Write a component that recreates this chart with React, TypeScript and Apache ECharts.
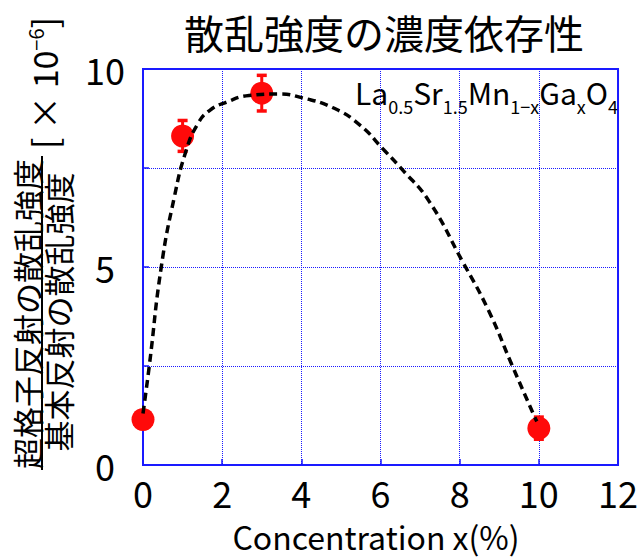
import React, { useEffect, useRef } from "react";
import * as echarts from "echarts";

const pointX = [0, 1, 3, 10];
const pointY = [1.15, 8.31, 9.39, 0.93];
const pointErr = [0, 0.39, 0.45, 0.28];

const curveX = [0, 0.16, 0.46, 0.79, 1.09, 1.38, 1.68, 2.1, 2.68, 3.44, 4.03, 4.78, 5.45, 6.1, 6.54, 7.22, 8.06, 8.73, 9.31, 9.9, 9.95];
const curveY = [1.3, 2.51, 4.99, 6.76, 7.94, 8.61, 8.95, 9.16, 9.33, 9.37, 9.27, 9.03, 8.61, 7.94, 7.47, 6.67, 5.16, 3.9, 2.55, 1.2, 1.1];

const titleText = "散乱強度の濃度依存性";
const xAxisName = "Concentration x(%)";
const yNumerator = "超格子反射の散乱強度";
const yDenominator = "基本反射の散乱強度";
const yLabeledTicks = [0, 5, 10];

const FONT = '"Noto Sans CJK JP", "Noto Sans", sans-serif';
const BLUE = "#1a1aff";
const RED = "#ff0a0a";

export default function App() {
  const ref = useRef<HTMLDivElement>(null);
  useEffect(() => {
    if (!ref.current) return;
    const chart = echarts.init(ref.current, undefined, { renderer: "svg" });
    const errData = pointX.map((x, i) => [x, pointY[i], pointErr[i]]);
    const option: any = {
      animation: false,
      backgroundColor: "#ffffff",
      textStyle: { fontFamily: FONT },
      grid: {
        left: 143,
        right: 21,
        top: 69,
        bottom: 94,
        show: true,
        borderColor: BLUE,
        borderWidth: 2,
        backgroundColor: "transparent",
      },
      xAxis: {
        type: "value",
        min: 0,
        max: 12,
        interval: 2,
        axisLine: { show: true, lineStyle: { color: BLUE, width: 2 } },
        axisTick: { show: true, inside: true, length: 6, lineStyle: { color: BLUE, width: 1.5 } },
        axisLabel: { color: "#000", fontSize: 36, lineHeight: 34, fontFamily: FONT, margin: 10 },
        splitLine: { show: true, lineStyle: { color: BLUE, type: "dotted", width: 1 } },
      },
      yAxis: {
        type: "value",
        min: 0,
        max: 10,
        interval: 2.5,
        axisLine: { show: true, lineStyle: { color: BLUE, width: 2 } },
        axisTick: { show: true, inside: true, length: 6, lineStyle: { color: BLUE, width: 1.5 } },
        axisLabel: {
          color: "#000",
          fontSize: 36,
          lineHeight: 34,
          fontFamily: FONT,
          margin: 38,
          align: "center",
          formatter: (v: number) => (yLabeledTicks.indexOf(v) >= 0 ? String(v) : ""),
        },
        splitLine: { show: true, lineStyle: { color: BLUE, type: "dotted", width: 1 } },
      },
      series: [
        {
          type: "custom",
          data: errData,
          z: 2,
          renderItem: (params: any, api: any) => {
            const x = api.value(0);
            const y = api.value(1);
            const e = api.value(2);
            if (!e) return null;
            const top = api.coord([x, y + e]);
            const bot = api.coord([x, y - e]);
            const hw = 5;
            const st = { stroke: RED, lineWidth: 3.5 };
            return {
              type: "group",
              children: [
                { type: "line", shape: { x1: top[0], y1: top[1], x2: bot[0], y2: bot[1] }, style: { stroke: RED, lineWidth: 3 } },
                { type: "line", shape: { x1: top[0] - hw, y1: top[1], x2: top[0] + hw, y2: top[1] }, style: st },
                { type: "line", shape: { x1: bot[0] - hw, y1: bot[1], x2: bot[0] + hw, y2: bot[1] }, style: st },
              ],
            };
          },
        },
        {
          type: "scatter",
          data: pointX.map((x, i) => [x, pointY[i]]),
          symbol: "circle",
          symbolSize: 23,
          itemStyle: { color: RED, opacity: 1 },
          z: 3,
        },
        {
          type: "line",
          data: curveX.map((x, i) => [x, curveY[i]]),
          smooth: true,
          showSymbol: false,
          symbol: "none",
          lineStyle: { color: "#000", width: 3.5, type: [8, 5] },
          z: 4,
        },
      ],
      graphic: [
        {
          type: "text",
          x: 384,
          y: 32,
          style: {
            text: titleText,
            font: `40px ${FONT}`,
            fill: "#000",
            align: "center",
            verticalAlign: "middle",
            textAlign: "center",
            textVerticalAlign: "middle",
          },
        },
        {
          type: "text",
          x: 376,
          y: 536,
          style: {
            text: xAxisName,
            font: `32px ${FONT}`,
            lineHeight: 32,
            fill: "#000",
            align: "center",
            verticalAlign: "middle",
            textAlign: "center",
            textVerticalAlign: "middle",
          },
        },
        {
          type: "text",
          x: 355,
          y: 77,
          style: {
            text: "{m|La}{s|0.5}{m|Sr}{s|1.5}{m|Mn}{s|1−x}{m|Ga}{s|x}{m|O}{s|4}",
            fill: "#000",
            align: "left",
            verticalAlign: "top",
            textAlign: "left",
            textVerticalAlign: "top",
            rich: {
              m: { fontSize: 30, fontFamily: FONT, lineHeight: 30, verticalAlign: "top", fill: "#000", color: "#000" },
              s: { fontSize: 18, fontFamily: FONT, lineHeight: 20, padding: [20, 0, 0, 0], verticalAlign: "top", fill: "#000", color: "#000" },
            },
          },
        },
        {
          type: "text",
          x: 26,
          y: 314,
          rotation: Math.PI / 2,
          style: {
            text: yNumerator,
            font: `31px ${FONT}`,
            fill: "#000",
            align: "center",
            verticalAlign: "middle",
            textAlign: "center",
            textVerticalAlign: "middle",
          },
        },
        {
          type: "text",
          x: 57,
          y: 312,
          rotation: Math.PI / 2,
          style: {
            text: yDenominator,
            font: `31px ${FONT}`,
            fill: "#000",
            align: "center",
            verticalAlign: "middle",
            textAlign: "center",
            textVerticalAlign: "middle",
          },
        },
        {
          type: "line",
          shape: { x1: 42, y1: 156, x2: 42, y2: 470 },
          style: { stroke: "#000", lineWidth: 2 },
        },
        {
          type: "text",
          x: 43,
          y: 83,
          rotation: Math.PI / 2,
          style: {
            text: "{a|[ × 10}{s|−6}{a|]}",
            align: "center",
            verticalAlign: "middle",
            textAlign: "center",
            textVerticalAlign: "middle",
            fill: "#000",
            rich: {
              a: { fontSize: 34, fontFamily: FONT, lineHeight: 36, fill: "#000", color: "#000" },
              s: { fontSize: 20, fontFamily: FONT, lineHeight: 20, verticalAlign: "top", fill: "#000", color: "#000" },
            },
          },
        },
      ],
    };
    chart.setOption(option);
    return () => chart.dispose();
  }, []);
  return <div ref={ref} style={{ width: 641, height: 559, position: "absolute", left: 0, top: 0 }} />;
}
